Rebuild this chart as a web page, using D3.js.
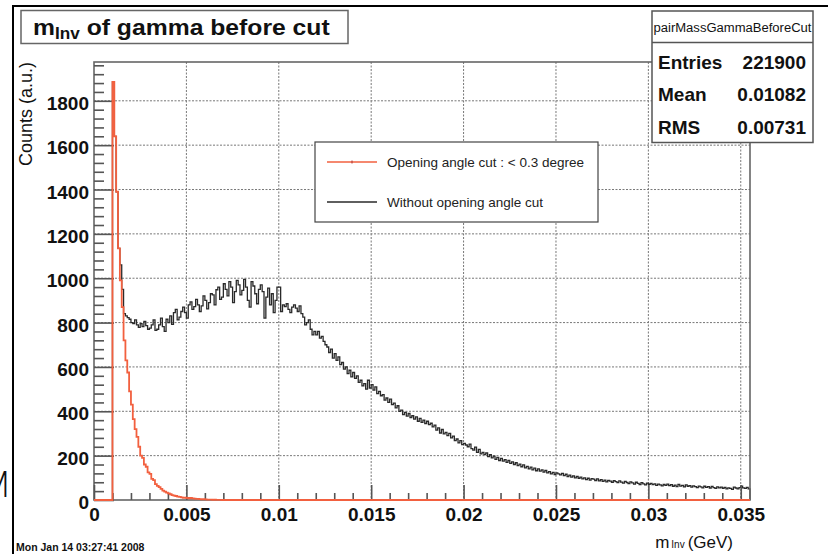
<!DOCTYPE html>
<html>
<head>
<meta charset="utf-8">
<script src="https://cdn.jsdelivr.net/npm/d3@7"></script>
<style>
  html, body { margin: 0; padding: 0; background: #fff; }
  svg { display: block; font-family: "Liberation Sans", Arial, Helvetica, sans-serif; }
</style>
</head>
<body>
<svg id="c" width="828" height="554"></svg>
<script>
// Invariant-mass histograms of photon pairs, bins of 0.1 MeV starting at 1 MeV
const binStart = 0.001;
const binWidth = 0.0001;

// With opening angle cut < 0.3 degree (bins from 0.001 GeV; later bins are empty)
const cutCounts = [
  1885, 1640, 1390, 1135, 990, 870, 720, 630, 575, 490,
  430, 365, 320, 285, 240, 200, 190, 160, 150, 125,
  118, 95, 90, 72, 64, 58, 50, 42, 38, 33,
  30, 26, 22, 20, 18, 15, 14, 12, 10, 11,
  9, 8, 10, 7, 6, 5, 5, 4, 3, 4,
  3, 2, 2, 2, 1, 2, 1, 1, 1
];

// Without opening angle cut (bins from 0.001 GeV to 0.0355 GeV)
const allCounts = [
  1885, 1640, 1390, 1135, 1060, 950, 840, 830, 822, 815,
  800, 795, 812, 790, 778, 795, 782, 805, 786, 770,
  775, 790, 812, 765, 770, 790, 820, 782, 760, 815,
  800, 830, 792, 845, 860, 812, 825, 850, 870, 845,
  820, 880, 893, 860, 872, 905, 880, 850, 875, 920,
  900, 862, 890, 930, 925, 880, 948, 960, 905, 915,
  975, 950, 920, 985, 960, 890, 940, 990, 970, 925,
  945, 995, 960, 900, 870, 985, 965, 930, 885, 950,
  970, 940, 820, 915, 955, 880, 930, 845, 900, 960,
  960, 850, 880, 872, 885, 860, 845, 870, 880, 865,
  850, 875, 840, 825, 790, 800, 812, 770, 745, 760,
  745, 760, 730, 738, 715, 700, 690, 665, 680, 640,
  660, 630, 645, 610, 620, 590, 600, 570, 585, 555,
  575, 548, 560, 530, 540, 515, 525, 500, 540, 505,
  520, 495, 510, 480, 490, 470, 475, 450, 460, 440,
  455, 430, 437, 415, 425, 400, 405, 385, 395, 378,
  390, 372, 380, 365, 375, 355, 368, 350, 360, 345,
  355, 340, 346, 330, 338, 315, 325, 302, 318, 298,
  305, 290, 300, 280, 288, 268, 275, 258, 268, 250,
  255, 248, 240, 252, 232, 225, 238, 215, 228, 208,
  215, 205, 212, 196, 205, 190, 198, 183, 192, 178,
  188, 175, 182, 170, 178, 165, 172, 160, 168, 155,
  162, 150, 158, 145, 152, 140, 148, 136, 144, 132,
  140, 130, 136, 126, 133, 122, 128, 118, 125, 115,
  122, 118, 113, 120, 110, 116, 106, 112, 103, 109,
  100, 106, 98, 103, 95, 100, 92, 98, 90, 96,
  94, 88, 95, 86, 92, 84, 90, 82, 88, 85,
  80, 87, 83, 78, 86, 81, 76, 84, 79, 74,
  82, 77, 72, 80, 75, 70, 78, 73, 68, 76,
  71, 75, 69, 73, 66, 72, 68, 64, 70, 66,
  72, 65, 69, 62, 67, 60, 70, 63, 66, 59,
  68, 62, 65, 58, 64, 60, 56, 63, 59, 55,
  62, 57, 60, 54, 61, 56, 52, 59, 55, 58,
  53, 57, 50, 55, 52, 48, 58, 54, 50, 56,
  62, 55, 52, 57, 50
];

const xTicks = [0, 0.005, 0.01, 0.015, 0.02, 0.025, 0.03, 0.035];
const xTickLabels = ["0", "0.005", "0.01", "0.015", "0.02", "0.025", "0.03", "0.035"];
const yTicks = [0, 200, 400, 600, 800, 1000, 1200, 1400, 1600, 1800];

const legendLabels = ["Opening angle cut : < 0.3 degree", "Without opening angle cut"];
const statsTitle = "pairMassGammaBeforeCut";
const statsRows = [["Entries", "221900"], ["Mean", "0.01082"], ["RMS", "0.00731"]];

const RED = "#f2603f";
const BLACK = "#2a2a2a";

const svg = d3.select("#c");
const frame = { left: 94, right: 750, top: 62, bottom: 500 };

const x = d3.scaleLinear().domain([0, 0.0355]).range([frame.left, frame.right]);
const y = d3.scaleLinear().domain([0, 1975]).range([frame.bottom, frame.top]);

// stray glyph of a neighbouring pad, and the pad border
svg.append("text").attr("x", -19).attr("y", 497).attr("font-size", 36)
  .attr("fill", "#111").attr("font-family", "'DejaVu Sans', sans-serif")
  .attr("font-weight", 200).text("M");
svg.append("rect").attr("x", 13).attr("y", 6).attr("width", 830).attr("height", 560)
  .attr("fill", "#fff").attr("stroke", "none");
svg.append("rect").attr("x", 13).attr("y", 6).attr("width", 830).attr("height", 560)
  .attr("fill", "none").attr("stroke", "#000").attr("stroke-width", 2);

// grid
const grid = svg.append("g").attr("stroke", "#777").attr("stroke-width", 1)
  .attr("stroke-dasharray", "2,1.5");
xTicks.filter(t => t > 0).forEach(t => {
  grid.append("line").attr("x1", x(t)).attr("x2", x(t))
    .attr("y1", frame.top).attr("y2", frame.bottom);
});
yTicks.filter(t => t > 0).forEach(t => {
  grid.append("line").attr("x1", frame.left).attr("x2", frame.right)
    .attr("y1", y(t)).attr("y2", y(t));
});

// histogram as a step outline
function stepPath(values) {
  const xs = x.domain();
  let d = `M${x(xs[0])},${y(0)}`;
  values.forEach((v, i) => {
    d += `H${x(binStart + i * binWidth)}V${y(v)}`;
  });
  d += `H${x(binStart + values.length * binWidth)}V${y(0)}H${x(xs[1])}`;
  return d;
}

svg.append("path").attr("d", stepPath(allCounts)).attr("fill", "none")
  .attr("stroke", BLACK).attr("stroke-width", 1.3);

// frame
svg.append("rect").attr("x", frame.left).attr("y", frame.top)
  .attr("width", frame.right - frame.left).attr("height", frame.bottom - frame.top)
  .attr("fill", "none").attr("stroke", "#666").attr("stroke-width", 1.6);

// axes
const minorY = [];
for (let v = 40; v < 1975; v += 40) if (v % 200 !== 0) minorY.push(v);
const minorX = [];
for (let k = 1; k < 36; k++) if (k % 5 !== 0) minorX.push(k * 0.001);

const yAxis = d3.axisLeft(y).tickValues(yTicks).tickSizeInner(-20).tickSizeOuter(0)
  .tickPadding(5).tickFormat(d3.format("d"));
const gy = svg.append("g").attr("transform", `translate(${frame.left},0)`).call(yAxis);
gy.select(".domain").remove();
gy.selectAll("line").attr("stroke", "#555").attr("stroke-width", 1.6);
gy.selectAll("text").attr("font-size", 19).attr("font-weight", "bold")
  .attr("fill", "#111").attr("dy", "0.45em")
  .attr("font-family", "'Liberation Sans', Arial, sans-serif");

const gym = svg.append("g").attr("transform", `translate(${frame.left},0)`)
  .call(d3.axisLeft(y).tickValues(minorY).tickSizeInner(-10).tickSizeOuter(0).tickFormat(""));
gym.select(".domain").remove();
gym.selectAll("line").attr("stroke", "#555").attr("stroke-width", 1.6);

const xAxis = d3.axisBottom(x).tickValues(xTicks).tickSizeInner(-15).tickSizeOuter(0)
  .tickPadding(8).tickFormat((d, i) => xTickLabels[i]);
const gx = svg.append("g").attr("transform", `translate(0,${frame.bottom})`).call(xAxis);
gx.select(".domain").remove();
gx.selectAll("line").attr("stroke", "#555").attr("stroke-width", 1.6);
gx.selectAll("text").attr("font-size", 19).attr("font-weight", "bold")
  .attr("fill", "#111")
  .attr("font-family", "'Liberation Sans', Arial, sans-serif");

const gxm = svg.append("g").attr("transform", `translate(0,${frame.bottom})`)
  .call(d3.axisBottom(x).tickValues(minorX).tickSizeInner(-7).tickSizeOuter(0).tickFormat(""));
gxm.select(".domain").remove();
gxm.selectAll("line").attr("stroke", "#555").attr("stroke-width", 1.6);

// red histogram on top
svg.append("path").attr("d", stepPath(cutCounts)).attr("fill", "none")
  .attr("stroke", RED).attr("stroke-width", 1.8);

// axis titles
const xt = svg.append("text").attr("x", 733).attr("y", 548).attr("text-anchor", "end")
  .attr("font-size", 17).attr("fill", "#111");
xt.append("tspan").text("m");
xt.append("tspan").attr("font-size", 10).attr("dx", 2).text("Inv");
xt.append("tspan").attr("dx", 3).text("(GeV)");

svg.append("text").attr("transform", "translate(32,62) rotate(-90)")
  .attr("text-anchor", "end").attr("font-size", 18).attr("fill", "#111")
  .text("Counts (a.u.)");

// legend
const lg = svg.append("g");
lg.append("rect").attr("x", 315).attr("y", 142).attr("width", 283).attr("height", 80)
  .attr("fill", "#fff").attr("stroke", "#444").attr("stroke-width", 1.2);
[RED, BLACK].forEach((c, i) => {
  const yy = 162 + i * 40;
  lg.append("line").attr("x1", 327).attr("x2", 377).attr("y1", yy).attr("y2", yy)
    .attr("stroke", c).attr("stroke-width", 1.5);
  lg.append("text").attr("x", 387).attr("y", yy + 5).attr("font-size", 13.5)
    .attr("fill", "#222").text(legendLabels[i]);
});
lg.append("line").attr("x1", 352).attr("x2", 352).attr("y1", 160.5).attr("y2", 163.5)
  .attr("stroke", "#a33").attr("stroke-width", 1);

// statistics box
const sb = svg.append("g");
sb.append("rect").attr("x", 652).attr("y", 11).attr("width", 161).attr("height", 131.5)
  .attr("fill", "#fff").attr("stroke", "#555").attr("stroke-width", 1.5);
sb.append("line").attr("x1", 652).attr("x2", 813).attr("y1", 42.5).attr("y2", 42.5)
  .attr("stroke", "#555").attr("stroke-width", 1.5);
sb.append("text").attr("x", 732.5).attr("y", 31.5).attr("text-anchor", "middle")
  .attr("font-size", 12).attr("textLength", 158).attr("lengthAdjust", "spacingAndGlyphs")
  .attr("fill", "#111").text(statsTitle);
statsRows.forEach((r, i) => {
  const yy = 68.5 + i * 32.5;
  sb.append("text").attr("x", 658).attr("y", yy).attr("font-size", 19)
    .attr("font-weight", "bold").attr("fill", "#111").text(r[0]);
  sb.append("text").attr("x", 806).attr("y", yy).attr("font-size", 19)
    .attr("font-weight", "bold").attr("text-anchor", "end").attr("fill", "#111").text(r[1]);
});

// title box
const tb = svg.append("g");
tb.append("rect").attr("x", 21).attr("y", 10.5).attr("width", 327).attr("height", 33)
  .attr("fill", "#fff").attr("stroke", "#666").attr("stroke-width", 1.5);
const tt = tb.append("g").attr("transform", "translate(33,0) scale(1.075,1)")
  .append("text").attr("x", 0).attr("y", 35).attr("font-size", 23)
  .attr("font-weight", "bold").attr("fill", "#111");
tt.append("tspan").text("m");
tt.append("tspan").attr("font-size", 16).attr("dy", 4).text("Inv");
tt.append("tspan").attr("dy", -4).text(" of gamma before cut");

// timestamp
svg.append("text").attr("x", 16).attr("y", 551).attr("font-size", 10.5)
  .attr("font-weight", "bold").attr("fill", "#111").text("Mon Jan 14 03:27:41 2008");
</script>
</body>
</html>
